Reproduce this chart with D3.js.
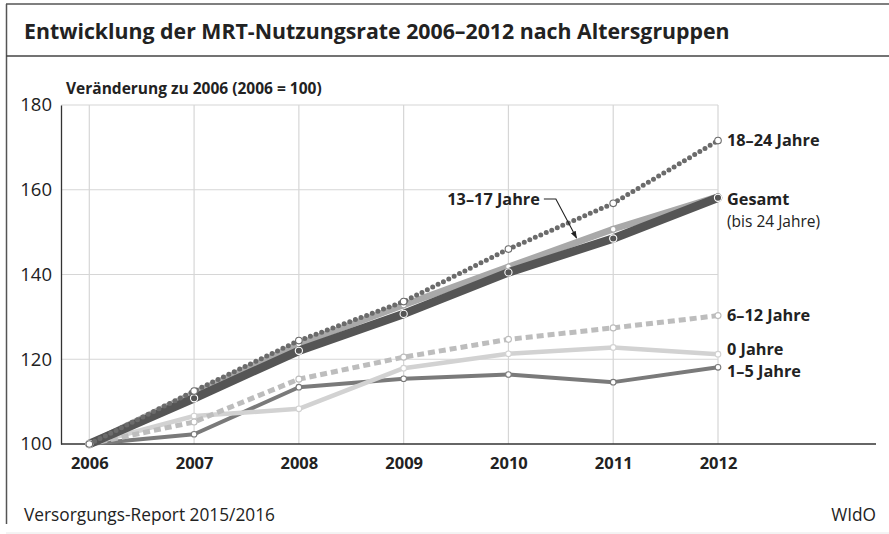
<!DOCTYPE html>
<html>
<head>
<meta charset="utf-8">
<script src="https://cdn.jsdelivr.net/npm/d3@7"></script>
<style>
  body { margin: 0; background: #fff; }
  text { font-family: "Open Sans", "Noto Sans", sans-serif; fill: #222; }
</style>
</head>
<body>
<svg id="root" width="889" height="534"></svg>
<script>
const years = [2006, 2007, 2008, 2009, 2010, 2011, 2012];
const yTicks = [100, 120, 140, 160, 180];

const v1to5   = [100, 102.3, 113.4, 115.4, 116.4, 114.6, 118.1];
const v0      = [100, 106.6, 108.3, 117.9, 121.3, 122.8, 121.2];
const v6to12  = [100, 105.2, 115.3, 120.5, 124.7, 127.4, 130.3];
const vGesamt = [100, 110.8, 122.0, 130.7, 140.5, 148.5, 158.1];
const v13to17 = [100, 112.0, 123.6, 132.8, 141.8, 150.7, 158.4];
const v18to24 = [100, 112.5, 124.4, 133.6, 146.0, 156.8, 171.6];

const svg = d3.select('#root');

const x = d3.scaleLinear().domain([2006, 2012]).range([89.3, 718]);
const y = d3.scaleLinear().domain([100, 180]).range([444, 105]);

// frame
svg.append('line').attr('x1', 6).attr('x2', 889).attr('y1', 4).attr('y2', 4)
    .attr('stroke', '#555').attr('stroke-width', 1.5);
svg.append('line').attr('x1', 6.5).attr('x2', 6.5).attr('y1', 4).attr('y2', 524)
    .attr('stroke', '#555').attr('stroke-width', 1.5);
svg.append('line').attr('x1', 6).attr('x2', 889).attr('y1', 56).attr('y2', 56)
    .attr('stroke', '#444').attr('stroke-width', 1.5);
svg.append('line').attr('x1', 6).attr('x2', 889).attr('y1', 533).attr('y2', 533)
    .attr('stroke', '#e8e8e8').attr('stroke-width', 1);

svg.append('text')
    .attr('x', 24).attr('y', 39)
    .attr('font-size', 21.3).attr('font-weight', 700)
    .text('Entwicklung der MRT-Nutzungsrate 2006–2012 nach Altersgruppen');

svg.append('text')
    .attr('x', 66).attr('y', 94)
    .attr('font-size', 15.5).attr('font-weight', 700)
    .text('Veränderung zu 2006 (2006 = 100)');

// grid
const grid = svg.append('g').attr('class', 'grid');
grid.selectAll('.h').data(yTicks.slice(1)).enter().append('line')
    .attr('x1', x.range()[0] - 28).attr('x2', x(2012))
    .attr('y1', d => y(d)).attr('y2', d => y(d))
    .attr('stroke', '#d6d6d6').attr('stroke-width', 1.2);
grid.selectAll('.v').data(years).enter().append('line')
    .attr('x1', d => x(d)).attr('x2', d => x(d))
    .attr('y1', y(180)).attr('y2', y(100))
    .attr('stroke', '#d6d6d6').attr('stroke-width', 1.2);

// axes
const axisY = d3.axisLeft(y).tickValues(yTicks).tickSize(0).tickPadding(9).tickFormat(d3.format('d'));
svg.append('g').attr('class', 'y axis')
    .attr('transform', 'translate(61,0)')
    .call(axisY)
    .call(g => g.select('.domain').attr('stroke', '#333').attr('stroke-width', 1.3))
    .call(g => g.selectAll('text').attr('font-size', 18.5).attr('fill', '#222').attr('font-family', '"Open Sans", sans-serif'));

const axisX = d3.axisBottom(x).tickValues(years).tickSize(0).tickPadding(13).tickFormat(d3.format('d'));
svg.append('g').attr('class', 'x axis')
    .attr('transform', `translate(0,${y(100)})`)
    .call(axisX)
    .call(g => g.select('.domain').remove())
    .call(g => g.selectAll('text').attr('font-size', 16.5).attr('font-weight', 700).attr('fill', '#222').attr('font-family', '"Open Sans", sans-serif'));
svg.append('line').attr('x1', 61).attr('x2', 876).attr('y1', y(100)).attr('y2', y(100))
    .attr('stroke', '#333').attr('stroke-width', 1.3);

// series
const line = d3.line().x((d, i) => x(years[i])).y(d => y(d));
const series = [
    { values: v1to5,   color: '#7a7a7a', width: 4,   dash: null,   cap: 'butt',  dot: { r: 2.8, fill: '#fff', stroke: '#7a7a7a' } },
    { values: v0,      color: '#d2d2d2', width: 4.5, dash: null,   cap: 'butt',  dot: { r: 2.8, fill: '#fff', stroke: '#d2d2d2' } },
    { values: v6to12,  color: '#bdbdbd', width: 5,   dash: '7,4',  cap: 'butt',  dot: { r: 3, fill: '#fff', stroke: '#bdbdbd' } },
    { values: v13to17, color: '#a9a9a9', width: 6.5, dash: null,   cap: 'round', dot: { r: 2.8, fill: '#fff', stroke: '#a9a9a9' } },
    { values: vGesamt, color: '#555555', width: 8.5, dash: null,   cap: 'round', dot: { r: 3.6, fill: '#555', stroke: '#fff' } },
    { values: v18to24, color: '#6b6b6b', width: 5,   dash: '0,6',  cap: 'round', dot: { r: 3.3, fill: '#fff', stroke: '#6b6b6b' } }
];

const lines = svg.append('g').attr('class', 'series');
series.forEach(s => {
    const g = lines.append('g');
    g.append('path')
        .attr('d', line(s.values))
        .attr('fill', 'none')
        .attr('stroke', s.color)
        .attr('stroke-width', s.width)
        .attr('stroke-linecap', s.cap)
        .attr('stroke-linejoin', 'round')
        .attr('stroke-dasharray', s.dash);
    g.selectAll('circle').data(s.values).enter().append('circle')
        .attr('cx', (d, i) => x(years[i]))
        .attr('cy', d => y(d))
        .attr('r', s.dot.r)
        .attr('fill', s.dot.fill)
        .attr('stroke', s.dot.stroke)
        .attr('stroke-width', 1.1);
});

// labels
const lx = x(2012) + 9;
const labels = [
    { text: '18–24 Jahre', v: v18to24[6], dy: 0, bold: true },
    { text: 'Gesamt', v: vGesamt[6], dy: 1, bold: true },
    { text: '(bis 24 Jahre)', v: vGesamt[6], dy: 24, bold: false },
    { text: '6–12 Jahre', v: v6to12[6], dy: 0, bold: true },
    { text: '0 Jahre', v: v0[6], dy: -4.5, bold: true },
    { text: '1–5 Jahre', v: v1to5[6], dy: 4, bold: true }
];
svg.append('g').selectAll('text').data(labels).enter().append('text')
    .attr('x', lx)
    .attr('y', d => y(d.v) + d.dy)
    .attr('dy', '0.35em')
    .attr('font-size', d => d.bold ? 16.3 : 15.5)
    .attr('font-weight', d => d.bold ? 700 : 400)
    .text(d => d.text);

// 13-17 annotation with leader arrow
const tipX = x(2010.65), tipY = y(148.6);
const lblX = x(2010.3), lblY = y(157.8);
svg.append('text')
    .attr('x', lblX).attr('y', lblY).attr('dy', '0.35em')
    .attr('text-anchor', 'end')
    .attr('font-size', 16.3).attr('font-weight', 700)
    .text('13–17 Jahre');
svg.append('defs').append('marker')
    .attr('id', 'arr').attr('viewBox', '0 0 10 10').attr('refX', 9).attr('refY', 5)
    .attr('markerWidth', 7).attr('markerHeight', 7).attr('orient', 'auto')
    .append('path').attr('d', 'M0,1.5 L10,5 L0,8.5 Z').attr('fill', '#222');
svg.append('path')
    .attr('d', `M${lblX + 4},${lblY} L${lblX + 16},${lblY} L${tipX},${tipY}`)
    .attr('fill', 'none').attr('stroke', '#222').attr('stroke-width', 1.1)
    .attr('marker-end', 'url(#arr)');

// footer
svg.append('text').attr('x', 24).attr('y', 515).attr('dy', '0.35em')
    .attr('font-size', 17.3).text('Versorgungs-Report 2015/2016');
svg.append('text').attr('x', 876).attr('y', 515).attr('dy', '0.35em')
    .attr('text-anchor', 'end').attr('font-size', 17.3).text('WIdO');
</script>
</body>
</html>
